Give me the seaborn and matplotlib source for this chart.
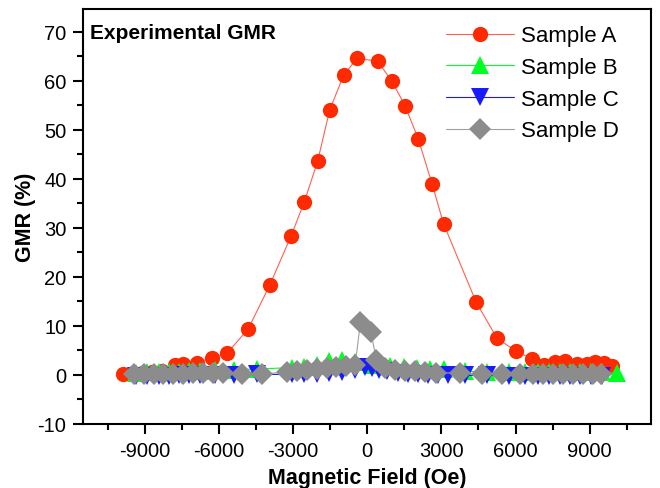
import matplotlib
matplotlib.use("Agg")
import matplotlib.pyplot as plt
import seaborn as sns
import numpy as np
from matplotlib.ticker import MultipleLocator

# Sample A (red circles)
xA = [-9900, -9500, -9100, -8700, -8300, -7770, -7440, -6900, -6290, -5680, -4820, -3950,
      -3080, -2550, -2010, -1520, -960, -420, 420, 1000, 1530, 2060, 2620, 3090, 4410, 5250,
      6030, 6670, 7140, 7610, 8020, 8490, 8890, 9230, 9570, 9910]
yA = [0.1, 0.3, 0.4, 0.6, 0.9, 2.1, 2.2, 2.5, 3.5, 4.4, 9.4, 18.3,
      28.4, 35.3, 43.6, 54.1, 61.1, 64.6, 64.0, 59.9, 54.9, 48.2, 39.0, 30.8, 14.8, 7.5,
      4.8, 3.3, 2.1, 2.6, 2.9, 2.2, 2.3, 2.6, 2.4, 1.8]

# Sample B (green up triangles)
xB = [-9350, -8920, -8450, -8040, -7640, -7230, -6760, -6150, -5410, -4470, -3050, -2580,
      -2040, -1570, -1020, -490, 200, 930, 1500, 2010, 2550, 3090, 3970, 4850, 5720, 6400,
      6920, 7350, 7780, 8200, 8620, 9050, 9480, 10100]
yB = [0.4, 0.5, 0.5, 0.6, 0.6, 0.7, 0.8, 1.0, 1.1, 1.2, 1.5, 1.7,
      2.0, 2.9, 3.1, 2.7, 2.0, 1.8, 1.6, 1.5, 1.3, 1.2, 0.8, 0.5, 0.5, 0.5,
      0.6, 0.6, 0.6, 0.6, 0.6, 0.6, 0.6, 0.3]

# Sample C (blue down triangles)
xC = [-9350, -8920, -8450, -8040, -7640, -7230, -6760, -6150, -5410, -4470, -3050, -2580,
      -2040, -1570, -1020, -490, -80, 190, 460, 800, 1230, 1640, 2050, 2460, 2870, 3280,
      3970, 4850, 5720, 6400, 6920, 7350, 7780, 8200, 8620, 9050, 9480]
yC = [-0.2, -0.2, -0.2, -0.2, -0.1, -0.1, -0.1, 0.0, 0.0, 0.1, 0.1, 0.2,
      0.2, 0.3, 0.5, 1.0, 1.6, 1.4, 1.0, 0.7, 0.4, 0.2, 0.1, 0.0, 0.0, -0.1,
      -0.1, -0.1, -0.2, -0.2, -0.2, -0.2, -0.2, -0.2, -0.2, -0.2, -0.2]

# Sample D (gray diamonds)
xD = [-9450, -9050, -8650, -8250, -7850, -7450, -7050, -6650, -6250, -5830, -5060, -4250,
      -3250, -2850, -2450, -2050, -1650, -1250, -850, -490, -280, 150, 370, 730, 1130,
      1540, 1940, 2350, 2800, 3770, 4640, 5450, 6190, 6720, 7130, 7530, 7940, 8340, 8750,
      9150, 9450]
yD = [0.1, 0.1, 0.1, 0.2, 0.2, 0.2, 0.3, 0.3, 0.4, 0.4, 0.2, 0.2,
      0.6, 0.8, 1.0, 1.2, 1.4, 1.6, 1.8, 2.0, 10.7, 8.7, 3.0, 1.4, 1.1,
      0.9, 0.8, 0.6, 0.4, 0.4, 0.2, 0.2, 0.2, 0.2, 0.2, 0.2, 0.2, 0.2, 0.2,
      0.2, 0.2]

xticks = [-9000, -6000, -3000, 0, 3000, 6000, 9000]
yticks = [-10, 0, 10, 20, 30, 40, 50, 60, 70]

sns.set_style("ticks")
plt.rcParams['font.family'] = ['Liberation Sans', 'DejaVu Sans']
plt.rcParams['axes.unicode_minus'] = False
for k in ['text.color', 'axes.labelcolor', 'xtick.color', 'ytick.color']:
    plt.rcParams[k] = 'black'

fig = plt.figure(figsize=(6.6, 4.89), dpi=100)
ax = fig.add_axes([0.126, 0.131, 0.861, 0.849])

series = [
    (xA, yA, 'Sample A', 'o', '#ff2a00', '#ff6050', 11),
    (xB, yB, 'Sample B', '^', '#00ff22', '#00ff22', 12.5),
    (xC, yC, 'Sample C', 'v', '#1a1aff', '#1a1aff', 12.5),
    (xD, yD, 'Sample D', 'D', '#8c8c8c', '#a0a0a0', 11.5),
]
for x, y, name, mk, mc, lc, ms in series:
    sns.lineplot(x=x, y=y, ax=ax, sort=False, label=name, color=lc, linewidth=0.8,
                 marker=mk, markersize=ms, markerfacecolor=mc, markeredgewidth=0)

ax.set_xlim(-11500, 11500)
ax.set_ylim(-10, 74.7)
ax.set_xticks(xticks)
ax.set_yticks(yticks)
ax.xaxis.set_minor_locator(MultipleLocator(1500))
ax.yaxis.set_minor_locator(MultipleLocator(5))
ax.tick_params(which='both', direction='out', width=1.5, labelsize=14.5)
ax.tick_params(which='major', length=7, pad=5)
ax.tick_params(which='minor', length=4)
for sp in ax.spines.values():
    sp.set_visible(True)
    sp.set_linewidth(1.5)
    sp.set_color('black')

ax.set_xlabel('Magnetic Field (Oe)', fontsize=15.5, fontweight='bold', labelpad=5)
ax.set_ylabel('GMR (%)', fontsize=15.5, fontweight='bold', labelpad=1)
ax.text(0.012, 0.966, 'Experimental GMR', transform=ax.transAxes, fontsize=15,
        fontweight='bold', va='top', ha='left')

ax.legend(loc='upper right', bbox_to_anchor=(0.943, 0.960), frameon=False, fontsize=16,
          handlelength=3.06, labelspacing=0.48, handletextpad=0.32,
          borderaxespad=0, borderpad=0)

fig.savefig('out.png', dpi=100)
